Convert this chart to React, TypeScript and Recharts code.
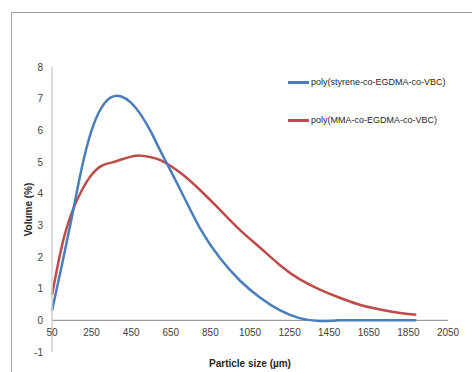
import React from "react";
import {
  LineChart,
  Line,
  XAxis,
  YAxis,
  ReferenceLine,
  Legend,
} from "recharts";

const particleSize = [
  50, 100, 150, 200, 250, 300, 350, 400, 450, 500, 550, 600, 700, 800, 900,
  1000, 1100, 1200, 1300, 1400, 1500, 1600, 1700, 1800, 1890,
];
const styreneVolume = [
  0.3, 1.75, 3.25, 4.8, 6.0, 6.72, 7.05, 7.07, 6.87, 6.48, 5.95, 5.32, 4.1, 2.88,
  1.95, 1.25, 0.72, 0.32, 0.07, -0.02, 0.0, 0.0, 0.0, 0.0, 0.0,
];
const mmaVolume = [
  0.8, 2.35, 3.4, 4.1, 4.6, 4.88, 4.98, 5.08, 5.17, 5.2, 5.15, 5.05, 4.65, 4.1,
  3.48, 2.85, 2.3, 1.75, 1.3, 0.98, 0.72, 0.5, 0.35, 0.24, 0.18,
];
const xTicks = [50, 250, 450, 650, 850, 1050, 1250, 1450, 1650, 1850, 2050];
const yTicks = [-1, 0, 1, 2, 3, 4, 5, 6, 7, 8];

const seriesNames = {
  styrene: "poly(styrene-co-EGDMA-co-VBC)",
  mma: "poly(MMA-co-EGDMA-co-VBC)",
};
const BLUE = "#4a7ebb";
const RED = "#be4b48";
const FONT = "'Liberation Sans', Arial, sans-serif";

const data = particleSize.map((x, i) => ({
  x,
  styrene: styreneVolume[i],
  mma: mmaVolume[i],
}));

// x labels sit between the 0 line and the -1 line, like the Excel original
const XTick = (props: any) => {
  const { x, y, payload } = props;
  return (
    <text
      x={x}
      y={y}
      dy={-16}
      textAnchor="middle"
      fontSize={10}
      fontFamily={FONT}
      fill="#404040"
    >
      {payload.value}
    </text>
  );
};

const LegendBox = () => (
  <div style={{ fontFamily: FONT, fontSize: 9, color: "#262626" }}>
    {[
      { name: seriesNames.styrene, color: BLUE },
      { name: seriesNames.mma, color: RED },
    ].map((s) => (
      <div
        key={s.name}
        style={{ display: "flex", alignItems: "center", height: 38 }}
      >
        <span
          style={{
            display: "inline-block",
            width: 21,
            height: 3,
            background: s.color,
            marginRight: 2,
          }}
        />
        <span>{s.name}</span>
      </div>
    ))}
  </div>
);

export default function App() {
  return (
    <div
      style={{
        position: "absolute",
        left: 0,
        top: 0,
        width: 472,
        height: 372,
        overflow: "hidden",
        background: "#fff",
      }}
    >
      <div
        style={{
          position: "absolute",
          left: 11,
          top: 12,
          width: 520,
          height: 420,
          border: "1px solid #a0a0a0",
        }}
      />
      <div style={{ position: "absolute", left: 0, top: 0 }}>
        <LineChart
          width={472}
          height={372}
          data={data}
          margin={{ top: 67, right: 24, bottom: 19, left: 0 }}
        >
          <XAxis
            dataKey="x"
            type="number"
            domain={[50, 2050]}
            ticks={xTicks}
            interval={0}
            axisLine={false}
            tickLine={false}
            tickSize={0}
            tickMargin={0}
            height={1}
            tick={<XTick />}
            label={{
              value: "Particle size (µm)",
              position: "center",
              dy: 11,
              fontSize: 10,
              fontWeight: "bold",
              fontFamily: FONT,
              fill: "#262626",
            }}
          />
          <YAxis
            type="number"
            domain={[-1, 8]}
            ticks={yTicks}
            interval={0}
            width={52}
            tickLine={false}
            tickSize={0}
            tickMargin={9}
            axisLine={{ stroke: "#d0d0d0", strokeWidth: 1.5 }}
            tick={{ fontSize: 10, fontFamily: FONT, fill: "#404040" }}
            label={{
              value: "Volume (%)",
              angle: -90,
              position: "center",
              dx: 2,
              fontSize: 10,
              fontWeight: "bold",
              fontFamily: FONT,
              fill: "#262626",
            }}
          />
          <ReferenceLine y={0} stroke="#868686" strokeWidth={1} />
          <Legend
            content={<LegendBox />}
            layout="horizontal"
            verticalAlign="middle"
            align="center"
            wrapperStyle={{ position: "absolute", left: 288, top: 63, width: 180 }}
          />
          <Line
            type="natural"
            dataKey="mma"
            name={seriesNames.mma}
            stroke={RED}
            strokeWidth={2.5}
            dot={false}
            isAnimationActive={false}
          />
          <Line
            type="natural"
            dataKey="styrene"
            name={seriesNames.styrene}
            stroke={BLUE}
            strokeWidth={2.5}
            dot={false}
            isAnimationActive={false}
          />
        </LineChart>
      </div>
    </div>
  );
}
